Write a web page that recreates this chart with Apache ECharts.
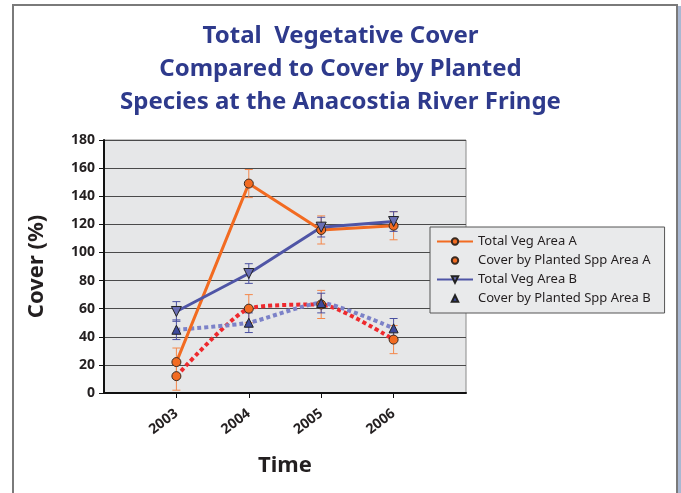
<!DOCTYPE html>
<html>
<head>
<meta charset="utf-8">
<script src="https://cdn.jsdelivr.net/npm/echarts@6/dist/echarts.min.js"></script>
<style>
html,body{margin:0;padding:0;background:#fff;}
#chart{width:681px;height:493px;}
</style>
</head>
<body>
<div id="chart"></div>
<script>
// ---- data ----
var categories = ['', '2003', '2004', '2005', '2006', ''];
var totalVegA = [null, 22, 149, 116, 119, null];
var plantedA = [null, 12, 60, 63, 38, null];
var totalVegB = [null, 58, 85, 118, 122, null];
var plantedB = [null, 45, 50, 64, 46, null];
var errTotalA = [null, 10, 10, 10, 10, null];
var errPlantedA = [null, 10, 10, 10, 10, null];
var errTotalB = [null, 7, 7, 7, 7, null];
var errPlantedB = [null, 7, 7, 7, 7, null];
var seriesNames = ['Total Veg Area A', 'Cover by Planted Spp Area A', 'Total Veg Area B', 'Cover by Planted Spp Area B'];
var titleLines = ['Total  Vegetative Cover', 'Compared to Cover by Planted', 'Species at the Anacostia River Fringe'];

function errData(vals, errs) {
  var out = [];
  for (var i = 0; i < vals.length; i++) {
    if (vals[i] != null && errs[i] != null) out.push([i, vals[i] - errs[i], vals[i] + errs[i]]);
  }
  return out;
}
function errSeries(vals, errs, color) {
  return {
    type: 'custom',
    silent: true,
    z: 1,
    data: errData(vals, errs),
    encode: { x: 0, y: [1, 2] },
    renderItem: function (params, api) {
      var lo = api.coord([api.value(0), api.value(1)]);
      var hi = api.coord([api.value(0), api.value(2)]);
      var w = 4;
      var st = { stroke: color, lineWidth: 1 };
      return {
        type: 'group',
        children: [
          { type: 'line', shape: { x1: lo[0], y1: lo[1], x2: hi[0], y2: hi[1] }, style: st },
          { type: 'line', shape: { x1: lo[0] - w, y1: lo[1], x2: lo[0] + w, y2: lo[1] }, style: st },
          { type: 'line', shape: { x1: hi[0] - w, y1: hi[1], x2: hi[0] + w, y2: hi[1] }, style: st }
        ]
      };
    }
  };
}

var orange = '#f26b21';
var blue = '#4f55a6';
var red = '#ee2a2e';
var lightBlue = '#7c82c8';
var dark = '#231f20';
var font = 'Noto Sans';

var chart = echarts.init(document.getElementById('chart'), null, { renderer: 'canvas' });
chart.setOption({
  animation: false,
  backgroundColor: '#fff',
  textStyle: { fontFamily: font },
  title: {
    text: titleLines.join('\n'),
    left: 'center', top: 15,
    textStyle: { fontFamily: font, fontSize: 24, fontWeight: 'bold', color: '#2e3a8c', lineHeight: 33 }
  },
  graphic: [
    { type: 'rect', shape: { x: 678, y: 6, width: 3, height: 490 }, style: { fill: '#a9b8d2' }, z: -1 },
    { type: 'rect', shape: { x: 13, y: 5, width: 664, height: 500 }, style: { fill: 'none', stroke: '#7a7a7a', lineWidth: 2 }, z: -1 }
  ],
  grid: {
    left: 104, top: 140, right: 215, bottom: 100,
    show: true, backgroundColor: '#e6e7e8', borderColor: '#8a8a8a', borderWidth: 1
  },
  legend: {
    left: 430, top: 227, width: 237,
    orient: 'vertical',
    backgroundColor: '#e9eaeb',
    borderColor: '#555', borderWidth: 1,
    padding: [7, 14, 7, 6],
    itemGap: 4,
    itemWidth: 36, itemHeight: 8,
    textStyle: { fontFamily: font, fontSize: 13, color: dark, lineHeight: 15 },
    data: [
      { name: seriesNames[0] },
      { name: seriesNames[1], lineStyle: { opacity: 0 } },
      { name: seriesNames[2] },
      { name: seriesNames[3], lineStyle: { opacity: 0 } }
    ]
  },
  xAxis: {
    type: 'category',
    data: categories,
    boundaryGap: false,
    name: 'Time', nameLocation: 'middle', nameGap: 62,
    nameTextStyle: { fontFamily: font, fontSize: 22, fontWeight: 'bold', color: dark },
    axisLine: { lineStyle: { color: '#111', width: 2 } },
    axisTick: { length: 5, lineStyle: { color: '#111' }, interval: function (i, v) { return v !== ''; } },
    axisLabel: { interval: 0, rotate: 37, margin: 19, fontFamily: font, fontSize: 14, fontWeight: 'bold', color: dark },
    splitLine: { show: false }
  },
  yAxis: {
    type: 'value', min: 0, max: 180, interval: 20,
    name: 'Cover (%)', nameLocation: 'middle', nameGap: 56, nameRotate: 90,
    nameTextStyle: { fontFamily: font, fontSize: 22, fontWeight: 'bold', color: dark },
    axisLine: { show: true, lineStyle: { color: '#111', width: 2 } },
    axisTick: { show: true, length: 5, lineStyle: { color: '#111' } },
    axisLabel: { margin: 9, fontFamily: font, fontSize: 14, fontWeight: 'bold', color: dark },
    splitLine: { lineStyle: { color: '#4a4a4a', width: 1 } }
  },
  series: [
    errSeries(totalVegA, errTotalA, '#f4874a'),
    errSeries(plantedA, errPlantedA, '#f4874a'),
    errSeries(totalVegB, errTotalB, '#4a50a0'),
    errSeries(plantedB, errPlantedB, '#4a50a0'),
    {
      name: seriesNames[1], type: 'line', data: plantedA, z: 3, smooth: 0.2,
      symbol: 'circle', symbolSize: 9,
      lineStyle: { color: red, width: 4, type: [4, 3], cap: 'butt' },
      itemStyle: { color: orange, borderColor: '#3a2a20', borderWidth: 1 }
    },
    {
      name: seriesNames[3], type: 'line', data: plantedB, z: 3, smooth: 0.2,
      symbol: 'triangle', symbolSize: 9,
      lineStyle: { color: lightBlue, width: 4, type: [4, 3], cap: 'butt' },
      itemStyle: { color: '#3d4a9c', borderColor: '#222', borderWidth: 1 }
    },
    {
      name: seriesNames[0], type: 'line', data: totalVegA, z: 4,
      symbol: 'circle', symbolSize: 9,
      lineStyle: { color: orange, width: 3 },
      itemStyle: { color: orange, borderColor: '#3a2a20', borderWidth: 1 }
    },
    {
      name: seriesNames[2], type: 'line', data: totalVegB, z: 4,
      symbol: 'triangle', symbolRotate: 180, symbolSize: 10,
      lineStyle: { color: blue, width: 3 },
      itemStyle: { color: '#6a6fb5', borderColor: '#222', borderWidth: 1 }
    }
  ]
});
</script>
</body>
</html>
